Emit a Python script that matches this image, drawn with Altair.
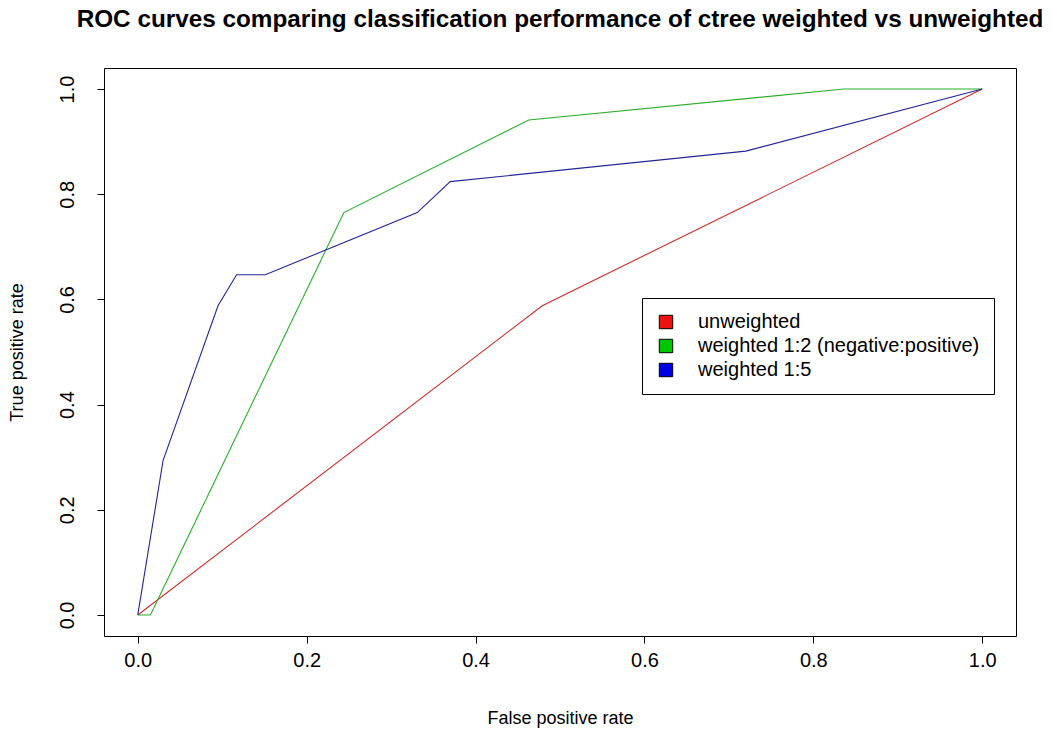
import altair as alt
import pandas as pd

# ROC curve vertices (false positive rate, true positive rate) for each model
series_names = ["unweighted", "weighted 1:2 (negative:positive)", "weighted 1:5"]

fpr_unweighted = [0.0, 0.479, 1.0]
tpr_unweighted = [0.0, 0.588, 1.0]

fpr_w12 = [0.0, 0.015, 0.244, 0.463, 0.836, 1.0]
tpr_w12 = [0.0, 0.0, 0.765, 0.941, 1.0, 1.0]

fpr_w15 = [0.0, 0.030, 0.095, 0.117, 0.151, 0.331, 0.370, 0.720, 1.0]
tpr_w15 = [0.0, 0.294, 0.588, 0.647, 0.647, 0.765, 0.824, 0.882, 1.0]

tick_values = [0.0, 0.2, 0.4, 0.6, 0.8, 1.0]

line_colors = ["#d02a2a", "#2aae2a", "#25259a"]
legend_fills = ["#ee1111", "#00c800", "#0000e0"]

rows = []
for name, xs, ys in zip(series_names,
                        [fpr_unweighted, fpr_w12, fpr_w15],
                        [tpr_unweighted, tpr_w12, tpr_w15]):
    for i, (x, y) in enumerate(zip(xs, ys)):
        rows.append({"model": name, "fpr": x, "tpr": y, "step": i})
df = pd.DataFrame(rows)

FONT = "Liberation Sans"

x_enc = alt.X(
    "fpr:Q",
    scale=alt.Scale(domain=[-0.04, 1.04], nice=False, zero=False),
    axis=alt.Axis(
        values=tick_values, format=".1f", title="False positive rate",
        grid=False, domain=False, tickColor="black", tickSize=7,
        labelPadding=7, labelFontSize=20, labelColor="black", labelFont=FONT,
        titleFontSize=18, titleFont=FONT, titleFontWeight="normal",
        titleColor="black", titlePadding=39,
    ),
)
y_enc = alt.Y(
    "tpr:Q",
    scale=alt.Scale(domain=[-0.04, 1.04], nice=False, zero=False),
    axis=alt.Axis(
        values=tick_values, format=".1f", title="True positive rate",
        grid=False, domain=False, tickColor="black", tickSize=7,
        labelAngle=-90, labelAlign="center", labelBaseline="bottom",
        labelPadding=20, labelFontSize=20, labelColor="black", labelFont=FONT,
        titleFontSize=18, titleFont=FONT, titleFontWeight="normal",
        titleColor="black", titlePadding=31,
    ),
)

lines = alt.Chart(df).mark_line(strokeWidth=1.1).encode(
    x=x_enc,
    y=y_enc,
    stroke=alt.Stroke("model:N",
                      scale=alt.Scale(domain=series_names, range=line_colors),
                      legend=None),
    order="step:Q",
    detail="model:N",
)

# invisible layer that only carries the filled-square legend
keys = alt.Chart(df).transform_calculate(
    series="datum.model"
).mark_point(shape="square", filled=True, opacity=0).encode(
    x="fpr:Q",
    y="tpr:Q",
    fill=alt.Fill(
        "series:N",
        scale=alt.Scale(domain=series_names, range=legend_fills),
        legend=alt.Legend(
            title=None, orient="none", legendX=538, legendY=230,
            symbolType="square", symbolSize=180, symbolOpacity=1,
            symbolStrokeColor="black", symbolStrokeWidth=1,
            labelFontSize=20, labelFont=FONT, labelColor="black",
            labelLimit=0, labelOffset=22, rowPadding=4, padding=14,
            strokeColor="black", fillColor="white", cornerRadius=0,
        ),
    ),
)

chart = alt.layer(lines, keys).resolve_legend(
    fill="independent", stroke="independent"
).properties(
    width=912,
    height=568,
    title=alt.Title(
        "ROC curves comparing classification performance of ctree weighted vs unweighted",
        font=FONT, fontSize=24.3, fontWeight="bold", color="black",
        anchor="middle", offset=36,
    ),
    autosize=alt.AutoSizeParams(type="none"),
    padding={"left": 104, "top": 68, "right": 37, "bottom": 104},
    background="white",
).configure_view(
    stroke="black", strokeWidth=1,
)

chart.save("out.html", embed_options={"renderer": "svg", "actions": False})
